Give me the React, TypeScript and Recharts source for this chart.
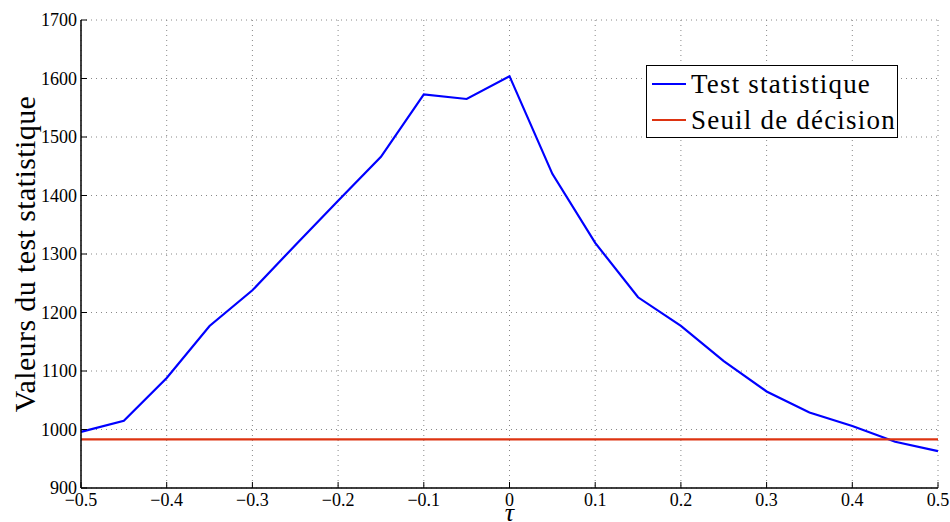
import React from 'react';
import {
  LineChart, Line, XAxis, YAxis, CartesianGrid, Legend, Label,
} from 'recharts';

const TAU = [-0.5, -0.45, -0.4, -0.35, -0.3, -0.25, -0.2, -0.15, -0.1, -0.05, 0,
  0.05, 0.1, 0.15, 0.2, 0.25, 0.3, 0.35, 0.4, 0.45, 0.5];
const TEST = [996, 1015, 1088, 1177, 1238, 1315, 1391, 1466, 1573, 1565, 1604,
  1437, 1319, 1226, 1177, 1117, 1065, 1029, 1006, 979, 963];
const SEUIL = 983;

const X_TICKS = [-0.5, -0.4, -0.3, -0.2, -0.1, 0, 0.1, 0.2, 0.3, 0.4, 0.5];
const Y_TICKS = [900, 1000, 1100, 1200, 1300, 1400, 1500, 1600, 1700];

const data = TAU.map((t, i) => ({ tau: t, test: TEST[i], seuil: SEUIL }));

const FONT = '"Liberation Serif", "DejaVu Serif", serif';
const TICK_LEN = 6;

const fmtX = (v: number) => (v < 0 ? '\u2212' + Math.abs(v) : String(v));

function BottomTick({ x, y, payload }: any) {
  return (
    <g>
      <line x1={x} x2={x} y1={y - 5} y2={y - 5 - TICK_LEN} stroke="#000" />
      <text x={x} y={y} dy="0.71em" textAnchor="middle" fontFamily={FONT} fontSize={18} fill="#000">
        {fmtX(payload.value)}
      </text>
    </g>
  );
}

function LeftTick({ x, y, payload }: any) {
  return (
    <g>
      <line x1={x + 4} x2={x + 4 + TICK_LEN} y1={y} y2={y} stroke="#000" />
      <text x={x} y={y} dy="0.35em" textAnchor="end" fontFamily={FONT} fontSize={18} fill="#000">
        {payload.value}
      </text>
    </g>
  );
}

function TopTick({ x, y }: any) {
  return <line x1={x} x2={x} y1={y} y2={y + TICK_LEN} stroke="#000" />;
}

function RightTick({ x, y }: any) {
  return <line x1={x} x2={x - TICK_LEN} y1={y} y2={y} stroke="#000" />;
}

function LegendBox() {
  const items = [
    { label: 'Test statistique', color: '#0000ff' },
    { label: 'Seuil de décision', color: '#dd3311' },
  ];
  return (
    <div style={{
      boxSizing: 'border-box', width: 252, height: 73,
      border: '1.5px solid #000', background: '#fff', padding: '0 0 0 5px',
      fontFamily: FONT, fontSize: 27, letterSpacing: 1.2, color: '#000', lineHeight: '36px',
    }}>
      {items.map(it => (
        <div key={it.label} style={{ display: 'flex', alignItems: 'center', whiteSpace: 'nowrap' }}>
          <span style={{ display: 'inline-block', width: 34, height: 2, background: it.color, marginRight: 5 }} />
          {it.label}
        </div>
      ))}
    </div>
  );
}

export default function App() {
  return (
    <div style={{ position: 'absolute', left: 0, top: 0, background: '#fff' }}>
      <LineChart width={950} height={522} data={data} margin={{ top: 20, right: 12, left: 0, bottom: 0 }}>
        <CartesianGrid stroke="#888" strokeDasharray="1 4" />
        <XAxis
          dataKey="tau" type="number" domain={[-0.5, 0.5]} ticks={X_TICKS}
          height={34} tickSize={0} tickMargin={5} tick={<BottomTick />}
          axisLine={{ stroke: '#000', strokeWidth: 1.5 }} tickLine={false}
        >
          <Label content={({ viewBox }: any) => (
            <text x={viewBox.x + viewBox.width / 2} y={521} textAnchor="middle"
              fontFamily={FONT} fontStyle="italic" fontSize={26} fill="#000">τ</text>
          )} />
        </XAxis>
        <XAxis
          xAxisId="top" orientation="top" dataKey="tau" type="number" domain={[-0.5, 0.5]}
          ticks={X_TICKS} height={0} tickSize={0} tickMargin={0} tick={<TopTick />}
          axisLine={{ stroke: '#000', strokeWidth: 1.5 }} tickLine={false}
        />
        <YAxis
          type="number" domain={[900, 1700]} ticks={Y_TICKS} width={81}
          tickSize={0} tickMargin={4} tick={<LeftTick />}
          axisLine={{ stroke: '#000', strokeWidth: 1.5 }} tickLine={false}
        >
          <Label content={({ viewBox }: any) => {
            const cx = 35;
            const cy = viewBox.y + viewBox.height / 2;
            return (
              <text x={cx} y={cy} transform={`rotate(-90 ${cx} ${cy})`} textAnchor="middle"
                fontFamily={FONT} fontSize={30} letterSpacing={0.4} fill="#000">
                Valeurs du test statistique
              </text>
            );
          }} />
        </YAxis>
        <YAxis
          yAxisId="right" orientation="right" type="number" domain={[900, 1700]} ticks={Y_TICKS}
          width={0} tickSize={0} tickMargin={0} tick={<RightTick />}
          axisLine={{ stroke: '#000', strokeWidth: 1.5 }} tickLine={false}
        />
        <Legend
          layout="horizontal" verticalAlign="middle" align="center"
          content={<LegendBox />}
          wrapperStyle={{ position: 'absolute', left: 646, top: 65, width: 'auto', height: 'auto' }}
        />
        <Line dataKey="test" name="Test statistique" stroke="#0000ff" strokeWidth={2.2}
          dot={false} isAnimationActive={false} />
        <Line dataKey="seuil" name="Seuil de décision" stroke="#dd3311" strokeWidth={2.2}
          dot={false} isAnimationActive={false} />
      </LineChart>
    </div>
  );
}
